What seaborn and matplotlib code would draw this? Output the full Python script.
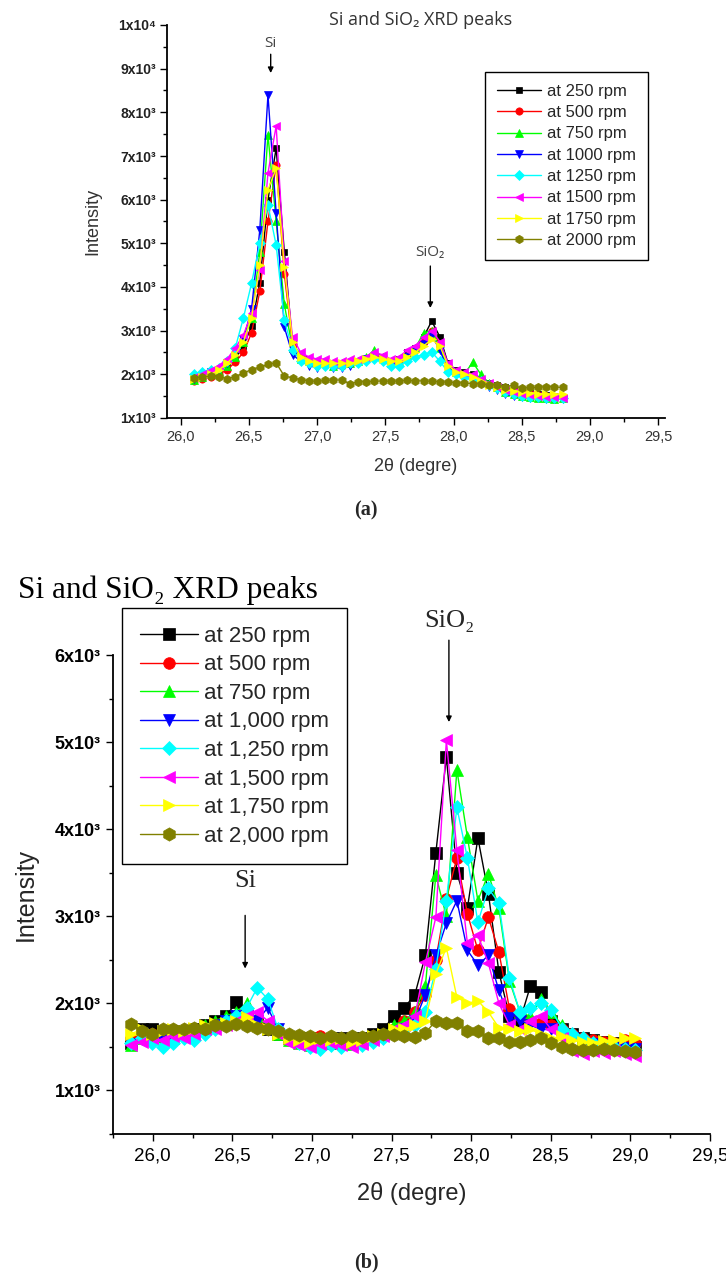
import numpy as np
import pandas as pd
import matplotlib
matplotlib.use("Agg")
import matplotlib.pyplot as plt
import seaborn as sns
from matplotlib.ticker import MultipleLocator

sns.set_theme(style="ticks")
plt.rcParams["font.family"] = ["Liberation Sans", "DejaVu Sans"]

# ---------------- data: panel (a) ----------------
x_a = [26.10, 26.16, 26.22, 26.28, 26.34, 26.40, 26.46, 26.52, 26.58, 26.64,
       26.70, 26.76, 26.82, 26.88, 26.94, 27.00, 27.06, 27.12, 27.18, 27.24,
       27.30, 27.36, 27.42, 27.48, 27.54, 27.60, 27.66, 27.72, 27.78, 27.84,
       27.90, 27.96, 28.02, 28.08, 28.14, 28.20, 28.26, 28.32, 28.38, 28.44,
       28.50, 28.56, 28.62, 28.68, 28.74, 28.80]
a_250 = [1950, 1960, 2020, 2080, 2150, 2350, 2650, 3100, 4100, 6000,
         7180, 4800, 2700, 2450, 2350, 2300, 2280, 2250, 2250, 2270,
         2300, 2350, 2450, 2380, 2300, 2350, 2500, 2600, 2850, 3220,
         2860, 2250, 2100, 2050, 2010, 1900, 1800, 1750, 1700, 1650,
         1600, 1570, 1550, 1520, 1500, 1480]
a_500 = [1850, 1900, 1950, 2000, 2100, 2280, 2500, 2950, 3900, 5500,
         6800, 4300, 2700, 2400, 2300, 2250, 2250, 2200, 2200, 2250,
         2280, 2350, 2450, 2350, 2280, 2300, 2400, 2550, 2750, 3000,
         2700, 2200, 2050, 1980, 1950, 1850, 1750, 1700, 1650, 1620,
         1580, 1550, 1520, 1500, 1480, 1470]
a_750 = [1880, 1950, 2000, 2050, 2200, 2400, 2750, 3300, 4800, 7480,
         5500, 3600, 2600, 2350, 2300, 2250, 2250, 2200, 2250, 2250,
         2300, 2400, 2550, 2400, 2250, 2300, 2450, 2600, 2950, 3000,
         2600, 2150, 2050, 2000, 2280, 2000, 1800, 1700, 1600, 1550,
         1500, 1480, 1450, 1450, 1440, 1450]
a_1000 = [1900, 1950, 2050, 2100, 2250, 2500, 2800, 3500, 5300, 8400,
          5700, 3080, 2450, 2300, 2200, 2150, 2200, 2150, 2150, 2200,
          2250, 2350, 2400, 2300, 2200, 2250, 2400, 2500, 2700, 2900,
          2550, 2100, 2000, 1950, 1900, 1800, 1700, 1650, 1550, 1500,
          1480, 1450, 1450, 1430, 1440, 1440]
a_1250 = [2000, 2050, 2100, 2150, 2300, 2600, 3290, 4090, 5000, 5880,
          4960, 3240, 2560, 2300, 2250, 2200, 2200, 2200, 2200, 2250,
          2250, 2300, 2350, 2300, 2200, 2200, 2300, 2400, 2450, 2510,
          2300, 2050, 2000, 1950, 1900, 1850, 1750, 1680, 1600, 1550,
          1500, 1480, 1470, 1460, 1450, 1450]
a_1500 = [1950, 2000, 2100, 2200, 2350, 2600, 2900, 3400, 4400, 6610,
          7690, 4600, 2850, 2500, 2400, 2350, 2350, 2300, 2300, 2350,
          2350, 2400, 2500, 2450, 2350, 2400, 2550, 2650, 2850, 3000,
          2750, 2250, 2100, 2050, 2000, 1900, 1800, 1700, 1650, 1600,
          1550, 1520, 1500, 1480, 1470, 1460]
a_1750 = [1900, 1950, 2000, 2100, 2250, 2450, 2750, 3300, 4500, 6220,
          6720, 4460, 2750, 2400, 2300, 2250, 2250, 2250, 2250, 2250,
          2300, 2350, 2400, 2350, 2300, 2300, 2400, 2500, 2650, 2800,
          2650, 2200, 2050, 2000, 1950, 1850, 1750, 1700, 1650, 1620,
          1600, 1580, 1560, 1550, 1550, 1550]
a_2000 = [1920, 1940, 1960, 1950, 1900, 1950, 2030, 2110, 2170, 2230,
          2260, 1960, 1920, 1880, 1850, 1840, 1860, 1870, 1870, 1790,
          1830, 1830, 1840, 1850, 1840, 1850, 1860, 1850, 1850, 1840,
          1830, 1820, 1810, 1800, 1790, 1780, 1760, 1760, 1720, 1750,
          1680, 1700, 1700, 1720, 1710, 1700]
labels_a = ["at 250 rpm", "at 500 rpm", "at 750 rpm", "at 1000 rpm",
            "at 1250 rpm", "at 1500 rpm", "at 1750 rpm", "at 2000 rpm"]

# ---------------- data: panel (b) ----------------
x_b = [25.864, 25.930, 25.996, 26.062, 26.128, 26.194, 26.260, 26.326, 26.392, 26.458,
       26.524, 26.590, 26.656, 26.722, 26.788, 26.854, 26.920, 26.986, 27.052, 27.118,
       27.184, 27.250, 27.316, 27.382, 27.448, 27.514, 27.580, 27.646, 27.712, 27.778,
       27.844, 27.910, 27.976, 28.042, 28.108, 28.174, 28.240, 28.306, 28.372, 28.438,
       28.504, 28.570, 28.636, 28.702, 28.768, 28.834, 28.900, 28.966, 29.032]
b_250 = [1550, 1700, 1700, 1650, 1680, 1650, 1700, 1750, 1800, 1850,
         2010, 1850, 1780, 1700, 1650, 1600, 1580, 1600, 1580, 1550,
         1600, 1580, 1600, 1650, 1700, 1860, 1950, 2100, 2550, 3730,
         4830, 3500, 3090, 3900, 3260, 2360, 1850, 1800, 2200, 2130,
         1800, 1700, 1650, 1600, 1580, 1560, 1550, 1520, 1500]
b_500 = [1600, 1620, 1650, 1600, 1620, 1650, 1680, 1700, 1750, 1780,
         1800, 1850, 1800, 1720, 1680, 1600, 1580, 1560, 1620, 1600,
         1580, 1560, 1580, 1600, 1620, 1700, 1800, 1900, 2100, 2500,
         3200, 3670, 3030, 2610, 2990, 2590, 1940, 1850, 1800, 1780,
         1750, 1700, 1650, 1600, 1580, 1560, 1550, 1580, 1550]
b_750 = [1520, 1600, 1650, 1620, 1600, 1650, 1700, 1750, 1800, 1850,
         1900, 2000, 1850, 1750, 1650, 1580, 1550, 1520, 1550, 1580,
         1550, 1530, 1560, 1600, 1650, 1750, 1800, 1900, 2200, 3470,
         3000, 4680, 3910, 3180, 3490, 3090, 2260, 1900, 1850, 2050,
         1900, 1750, 1650, 1600, 1550, 1520, 1500, 1480, 1460]
b_1000 = [1530, 1650, 1600, 1580, 1600, 1650, 1680, 1700, 1750, 1800,
          1850, 1850, 1800, 1950, 1700, 1600, 1550, 1530, 1560, 1580,
          1550, 1540, 1560, 1580, 1600, 1650, 1700, 1800, 2100, 2550,
          2920, 3180, 2610, 2440, 2550, 2150, 1830, 1800, 1750, 1700,
          1700, 1650, 1600, 1550, 1530, 1520, 1500, 1490, 1480]
b_1250 = [1550, 1600, 1550, 1500, 1550, 1600, 1580, 1650, 1700, 1800,
          1850, 1950, 2180, 2050, 1700, 1600, 1550, 1500, 1480, 1520,
          1500, 1550, 1520, 1560, 1600, 1650, 1700, 1750, 1900, 2400,
          3180, 4250, 3670, 2930, 3320, 3150, 2290, 1900, 1950, 2000,
          1920, 1710, 1650, 1600, 1550, 1520, 1500, 1480, 1460]
b_1500 = [1520, 1560, 1600, 1580, 1620, 1600, 1650, 1700, 1700, 1750,
          1800, 1850, 1900, 1800, 1650, 1550, 1520, 1500, 1530, 1550,
          1520, 1500, 1530, 1580, 1620, 1700, 1750, 1850, 2470, 2990,
          5020, 3760, 2690, 2780, 2460, 2000, 1750, 1700, 1800, 1850,
          1700, 1600, 1450, 1420, 1450, 1430, 1450, 1420, 1400]
b_1750 = [1650, 1700, 1650, 1680, 1700, 1680, 1720, 1750, 1780, 1780,
          1800, 1840, 1750, 1700, 1650, 1600, 1580, 1560, 1600, 1580,
          1600, 1560, 1580, 1620, 1650, 1700, 1700, 1750, 1800, 2340,
          2640, 2070, 2000, 2030, 1900, 1720, 1700, 1680, 1700, 1650,
          1600, 1620, 1580, 1560, 1550, 1570, 1580, 1600, 1600]
b_2000 = [1760, 1680, 1650, 1700, 1700, 1700, 1720, 1700, 1750, 1740,
          1760, 1740, 1720, 1700, 1680, 1650, 1640, 1620, 1600, 1620,
          1600, 1620, 1610, 1620, 1650, 1640, 1620, 1610, 1660, 1800,
          1770, 1770, 1680, 1680, 1600, 1600, 1560, 1560, 1580, 1600,
          1550, 1500, 1480, 1470, 1460, 1480, 1470, 1450, 1440]
labels_b = ["at 250 rpm", "at 500 rpm", "at 750 rpm", "at 1,000 rpm",
            "at 1,250 rpm", "at 1,500 rpm", "at 1,750 rpm", "at 2,000 rpm"]

# ---------------- ticks ----------------
xticks = [26.0, 26.5, 27.0, 27.5, 28.0, 28.5, 29.0, 29.5]
xticklabels = ["26,0", "26,5", "27,0", "27,5", "28,0", "28,5", "29,0", "29,5"]
yticks_a = [1000, 2000, 3000, 4000, 5000, 6000, 7000, 8000, 9000, 10000]
yticklabels_a = ["1x10³", "2x10³", "3x10³", "4x10³", "5x10³", "6x10³",
                 "7x10³", "8x10³", "9x10³", "1x10⁴"]
yticks_b = [1000, 2000, 3000, 4000, 5000, 6000]
yticklabels_b = ["1x10³", "2x10³", "3x10³", "4x10³", "5x10³", "6x10³"]

colors = ["#000000", "#FF0000", "#00FF00", "#0000FF", "#00FFFF", "#FF00FF", "#FFFF00", "#808000"]
markers = ["s", "o", "^", "v", "D", "<", ">", "h"]
msizes = [1.0, 1.05, 1.15, 1.15, 0.95, 1.15, 1.15, 1.2]

W, H = 726, 1288
fig = plt.figure(figsize=(W / 100, H / 100), dpi=100)


def fx(px):
    return px / W


def fy(py):
    return 1 - py / H


ax1 = fig.add_axes([fx(167), fy(418), 498 / W, 393 / H])
ax2 = fig.add_axes([fx(113), fy(1134), 597 / W, 479 / H])

series_a = [a_250, a_500, a_750, a_1000, a_1250, a_1500, a_1750, a_2000]
series_b = [b_250, b_500, b_750, b_1000, b_1250, b_1500, b_1750, b_2000]

for i, (ys, lab) in enumerate(zip(series_a, labels_a)):
    df = pd.DataFrame({"x": x_a, "y": ys})
    sns.lineplot(data=df, x="x", y="y", ax=ax1, color=colors[i], marker=markers[i],
                 markersize=5.0 * msizes[i], markeredgecolor=colors[i], markeredgewidth=0.5,
                 linewidth=1.0, label=lab, sort=False, estimator=None)

for i, (ys, lab) in enumerate(zip(series_b, labels_b)):
    df = pd.DataFrame({"x": x_b, "y": ys})
    sns.lineplot(data=df, x="x", y="y", ax=ax2, color=colors[i], marker=markers[i],
                 markersize=8.0 * msizes[i], markeredgecolor=colors[i], markeredgewidth=0.5,
                 linewidth=1.0, label=lab, sort=False, estimator=None)

# ---------------- axes styling ----------------
for ax in (ax1, ax2):
    ax.set_facecolor("white")
    for s in ("top", "right"):
        ax.spines[s].set_visible(False)
    for s in ("left", "bottom"):
        ax.spines[s].set_color("black")
        ax.spines[s].set_linewidth(1.3)
    ax.set_xticks(xticks)
    ax.set_xticklabels(xticklabels)
    ax.xaxis.set_minor_locator(MultipleLocator(0.25))
    ax.yaxis.set_minor_locator(MultipleLocator(500))
    ax.tick_params(which="both", direction="out", color="black", width=1.0)
    ax.tick_params(which="major", length=5)
    ax.tick_params(which="minor", length=3)

ax1.set_xlim(25.9, 29.55)
ax1.set_ylim(1000, 10000)
ax1.set_yticks(yticks_a)
ax1.set_yticklabels(yticklabels_a, fontweight="bold")
ax1.tick_params(axis="x", labelsize=10.5, labelcolor="#333333", pad=4)
ax1.tick_params(axis="y", labelsize=10, labelcolor="#222222", pad=3)
ax1.set_xlabel("2θ (degre)", fontsize=13, color="#333333", labelpad=10)
ax1.set_ylabel("Intensity", fontsize=13, color="#333333", labelpad=12)

ax2.set_xlim(25.75, 29.5)
ax2.set_ylim(500, 6000)
ax2.set_yticks(yticks_b)
ax2.set_yticklabels(yticklabels_b, fontweight="bold")
ax2.tick_params(axis="x", labelsize=13.5, labelcolor="#000000", pad=5)
ax2.tick_params(axis="y", labelsize=13, labelcolor="#000000", pad=4)
ax2.set_xlabel("2θ (degre)", fontsize=17, labelpad=12)
ax2.set_ylabel("Intensity", fontsize=18, labelpad=12)

# ---------------- legends ----------------
h1, l1 = ax1.get_legend_handles_labels()
leg1 = ax1.legend(h1, l1, loc="upper left", bbox_to_anchor=(fx(485), fy(72)),
                  bbox_transform=fig.transFigure, fontsize=12, frameon=True,
                  fancybox=False, edgecolor="black", framealpha=1, handlelength=2.65,
                  labelspacing=0.38, handletextpad=0.36, borderpad=0.7, borderaxespad=0)
leg1.get_frame().set_linewidth(1.0)

h2, l2 = ax2.get_legend_handles_labels()
leg2 = ax2.legend(h2, l2, loc="upper left", bbox_to_anchor=(fx(122), fy(608)),
                  bbox_transform=fig.transFigure, fontsize=16, frameon=True,
                  fancybox=False, edgecolor="black", framealpha=1, handlelength=2.6,
                  labelspacing=0.34, handletextpad=0.3, borderpad=0.8, borderaxespad=0)
leg2.get_frame().set_linewidth(1.0)

# ---------------- titles & annotations ----------------
fig.text(fx(421), fy(20), "Si and SiO₂ XRD peaks", ha="center", va="center",
         fontsize=13, color="#333333", family=["Open Sans", "DejaVu Sans"])
fig.text(fx(18), fy(590), "Si and SiO₂ XRD peaks", ha="left", va="center",
         fontsize=22.5, color="black", family=["Liberation Serif", "DejaVu Serif"])

arrow_kw = dict(arrowstyle="-|>", color="black", lw=1.0, mutation_scale=8,
                shrinkA=0, shrinkB=0)
# panel (a)
ax1.annotate("", xy=(26.66, 8900), xytext=(26.66, 9330), arrowprops=arrow_kw,
             annotation_clip=False)
ax1.text(26.66, 9580, "Si", ha="center", va="center", fontsize=11, color="#444444",
         family=["Open Sans", "DejaVu Sans"])
ax1.annotate("", xy=(27.83, 3520), xytext=(27.83, 4480), arrowprops=arrow_kw,
             annotation_clip=False)
ax1.text(27.83, 4800, "SiO₂", ha="center", va="center", fontsize=11, color="#444444",
         family=["Open Sans", "DejaVu Sans"])
# panel (b)
ax2.annotate("", xy=(27.86, 5230), xytext=(27.86, 6170), arrowprops=arrow_kw,
             annotation_clip=False)
ax2.text(27.86, 6390, "SiO₂", ha="center", va="center", fontsize=19,
         family=["Liberation Serif", "DejaVu Serif"], clip_on=False)
ax2.annotate("", xy=(26.58, 2400), xytext=(26.58, 3010), arrowprops=arrow_kw,
             annotation_clip=False)
ax2.text(26.58, 3400, "Si", ha="center", va="center", fontsize=19,
         family=["Liberation Serif", "DejaVu Serif"])

fig.text(fx(366), fy(510), "(a)", ha="center", va="center", fontsize=14.5,
         fontweight="bold", family=["Liberation Serif", "DejaVu Serif"])
fig.text(fx(366), fy(1262), "(b)", ha="center", va="center", fontsize=14.5,
         fontweight="bold", family=["Liberation Serif", "DejaVu Serif"])

fig.savefig("out.png", dpi=100, facecolor="white")
